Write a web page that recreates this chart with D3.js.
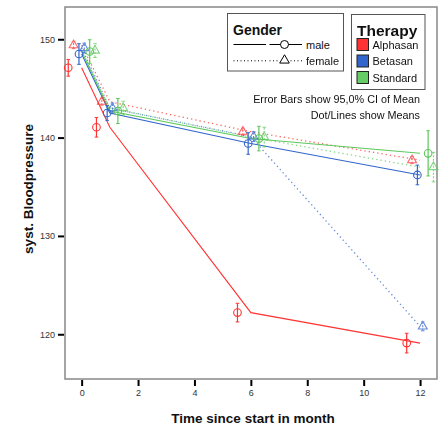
<!DOCTYPE html>
<html><head><meta charset="utf-8">
<script src="https://cdn.jsdelivr.net/npm/d3@7/dist/d3.min.js"></script>
<style>
html,body{margin:0;padding:0;background:#fff;}
svg{display:block;font-family:"Liberation Sans",Arial,Helvetica,sans-serif;}
</style></head>
<body>
<svg id="chart" width="445" height="426"></svg>
<script>
// ---- data ----
const times = [0, 1, 6, 12];
const therapies = ["Alphasan", "Betasan", "Standard"];
const genders = ["male", "female"];
const xTicks = [0, 2, 4, 6, 8, 10, 12];
const yTicks = [120, 130, 140, 150];

const alphasanMale   = [147.1, 141.05, 122.2, 119.1];
const alphasanFemale = [149.4, 143.65, 140.6, 137.7];
const betasanMale    = [148.5, 142.5, 139.4, 136.2];
const betasanFemale  = [149.1, 143.0, 140.1, 120.8];
const standardMale   = [148.75, 142.7, 139.9, 138.4];
const standardFemale = [148.85, 143.0, 140.05, 137.0];

const alphasanMaleCI   = [0.85, 1.0, 0.95, 1.0];
const alphasanFemaleCI = [0.35, 0.35, 0.35, 0.35];
const betasanMaleCI    = [1.05, 0.75, 1.1, 1.0];
const betasanFemaleCI  = [0.5, 0.5, 0.5, 0.45];
const standardMaleCI   = [1.2, 1.27, 1.25, 2.3];
const standardFemaleCI = [0.7, 0.7, 1.0, 1.5];

const series = [
  {therapy:"Alphasan", gender:"male",   means:alphasanMale,   ci:alphasanMaleCI},
  {therapy:"Alphasan", gender:"female", means:alphasanFemale, ci:alphasanFemaleCI},
  {therapy:"Betasan",  gender:"male",   means:betasanMale,    ci:betasanMaleCI},
  {therapy:"Betasan",  gender:"female", means:betasanFemale,  ci:betasanFemaleCI},
  {therapy:"Standard", gender:"male",   means:standardMale,   ci:standardMaleCI},
  {therapy:"Standard", gender:"female", means:standardFemale, ci:standardFemaleCI}
];

// ---- layout ----
const colors = {Alphasan:"#ff3333", Betasan:"#3366cc", Standard:"#5cc85c"};
const swatch = {Alphasan:"#ff3333", Betasan:"#3366cc", Standard:"#66cc66"};
const L = 65, R = 437, T = 7, B = 379;
const svg = d3.select("#chart");

const x = d3.scaleLinear().domain([-0.59, 12.6]).range([L, R]);
const y = d3.scaleLinear().domain([115.45, 153.28]).range([B, T]);
const dodge = i => (i - 2.5) * 0.19;

// frame
svg.append("rect").attr("x", L).attr("y", T).attr("width", R - L).attr("height", B - T)
  .attr("fill", "none").attr("stroke", "#888").attr("stroke-width", 1.5);

// axes
const yAxis = svg.append("g").attr("transform", `translate(${L - 1},0)`)
  .call(d3.axisLeft(y).tickValues(yTicks).tickSize(6).tickPadding(3).tickFormat(d3.format("d")));
const xAxis = svg.append("g").attr("transform", `translate(0,${B + 1})`)
  .call(d3.axisBottom(x).tickValues(xTicks).tickSize(6).tickPadding(4).tickFormat(d3.format("d")));
[yAxis, xAxis].forEach(a => {
  a.select(".domain").remove();
  a.selectAll(".tick line").attr("stroke", "#000").attr("stroke-width", 2);
  a.selectAll(".tick text").attr("fill", "#333").style("font-size", "9px");
});

// titles
svg.append("text").attr("x", 253).attr("y", 423).attr("text-anchor", "middle")
  .style("font-size", "13.5px").style("font-weight", "bold").attr("fill", "#111")
  .text("Time since start in month");
svg.append("text").attr("transform", "translate(33,189) rotate(-90)").attr("text-anchor", "middle")
  .style("font-size", "13.5px").style("font-weight", "bold").attr("fill", "#111")
  .text("syst. Bloodpressure");

// lines
const plot = svg.append("g");
const line = d3.line().x((d, i) => x(times[i])).y(d => y(d));
series.forEach(s => {
  const fem = s.gender === "female";
  plot.append("path").datum(s.means).attr("d", line)
    .attr("fill", "none").attr("stroke", colors[s.therapy])
    .attr("stroke-width", fem ? 1.3 : 1.1)
    .attr("stroke-dasharray", fem ? "1.3,3" : null)
    .attr("opacity", fem ? 0.75 : 1);
});

// error bars & markers
const tri = d3.symbol().type(d3.symbolTriangle).size(34);
series.forEach((s, si) => {
  const fem = s.gender === "female";
  const c = colors[s.therapy];
  const g = plot.append("g").attr("opacity", fem ? 0.75 : 1);
  s.means.forEach((m, ti) => {
    const px = x(times[ti] + dodge(si));
    const lo = y(m - s.ci[ti]), hi = y(m + s.ci[ti]);
    g.append("line").attr("x1", px).attr("x2", px).attr("y1", lo).attr("y2", hi)
      .attr("stroke", c).attr("stroke-width", 1.2).attr("stroke-dasharray", fem ? "2,1.5" : null);
    [lo, hi].forEach(yy => g.append("line").attr("x1", px - 1.8).attr("x2", px + 1.8)
      .attr("y1", yy).attr("y2", yy).attr("stroke", c).attr("stroke-width", 1));
    if (fem) {
      g.append("path").attr("d", tri).attr("transform", `translate(${px},${y(m)})`)
        .attr("fill", "none").attr("stroke", c).attr("stroke-width", 1.1);
    } else {
      g.append("circle").attr("cx", px).attr("cy", y(m)).attr("r", 3.8)
        .attr("fill", "none").attr("stroke", c).attr("stroke-width", 1.1);
    }
  });
});

// legend: Gender
const lg = svg.append("g");
lg.append("rect").attr("x", 227.5).attr("y", 13.5).attr("width", 116).attr("height", 57.5)
  .attr("fill", "#fff").attr("stroke", "#555").attr("stroke-width", 1);
lg.append("text").attr("x", 233).attr("y", 35).style("font-size", "14px").style("font-weight", "bold")
  .attr("fill", "#111").text("Gender");
genders.forEach((gname, i) => {
  const yy = 44.5 + i * 16.3;
  const dash = gname === "female" ? "1,2.5" : null;
  lg.append("line").attr("x1", 233.5).attr("x2", 266).attr("y1", yy).attr("y2", yy)
    .attr("stroke", "#000").attr("stroke-width", 1).attr("stroke-dasharray", dash);
  lg.append("line").attr("x1", 269.5).attr("x2", 302).attr("y1", yy).attr("y2", yy)
    .attr("stroke", "#000").attr("stroke-width", 1).attr("stroke-dasharray", dash);
  if (gname === "female") {
    lg.append("rect").attr("x", 279).attr("y", yy - 5).attr("width", 10).attr("height", 8).attr("fill", "#fff");
    lg.append("path").attr("d", d3.symbol().type(d3.symbolTriangle).size(40)).attr("transform", `translate(284.5,${yy - 0.5})`)
      .attr("fill", "none").attr("stroke", "#000").attr("stroke-width", 1);
  } else {
    lg.append("circle").attr("cx", 284.5).attr("cy", yy).attr("r", 4)
      .attr("fill", "#fff").attr("stroke", "#000").attr("stroke-width", 1);
  }
  lg.append("text").attr("x", 306).attr("y", yy + 4).style("font-size", "11px").attr("fill", "#111").text(gname);
});

// legend: Therapy
lg.append("rect").attr("x", 351.5).attr("y", 14.5).attr("width", 73.5).attr("height", 75)
  .attr("fill", "#fff").attr("stroke", "#555").attr("stroke-width", 1);
lg.append("text").attr("x", 357).attr("y", 36).style("font-size", "15.5px").style("font-weight", "bold")
  .attr("fill", "#111").text("Therapy");
therapies.forEach((t, i) => {
  const yy = 44.5 + i * 16.5;
  lg.append("rect").attr("x", 357).attr("y", yy - 6).attr("width", 11.5).attr("height", 12)
    .attr("fill", swatch[t]).attr("stroke", "#222").attr("stroke-width", 1);
  lg.append("text").attr("x", 372.5).attr("y", yy + 4).style("font-size", "11px").attr("fill", "#111").text(t);
});

// notes
lg.append("text").attr("x", 420).attr("y", 103).attr("text-anchor", "end").style("font-size", "10.8px")
  .attr("fill", "#111").text("Error Bars show 95,0% CI of Mean");
lg.append("text").attr("x", 420).attr("y", 119).attr("text-anchor", "end").style("font-size", "10.8px")
  .attr("fill", "#111").text("Dot/Lines show Means");
</script>
</body></html>
